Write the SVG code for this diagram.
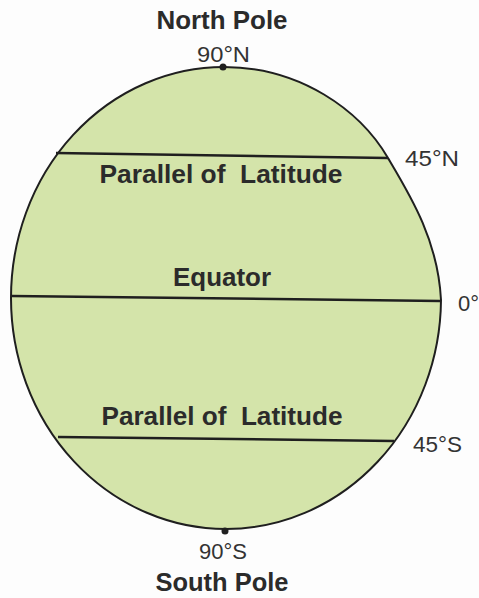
<svg xmlns="http://www.w3.org/2000/svg" width="479" height="598" viewBox="0 0 479 598">
<style>
.bold{font-family:"Liberation Sans",Arial,sans-serif;font-weight:bold;fill:#2b2b2b;text-anchor:middle}
.reg{font-family:"Liberation Sans",Arial,sans-serif;font-weight:normal;fill:#333;font-size:22px}
.lat{stroke:#1f1f1f;stroke-width:2.5;fill:none}
</style>
<rect width="479" height="598" fill="#fdfdfd"/>
<g id="globe">
<path d="M224,67 C300,67 360,110 388,158 C410,195 438,240 441,300 A215,231 0 0 1 226,529 A215,231 0 0 1 11,298 A213,231 0 0 1 224,67 Z" fill="#d4e4aa" stroke="#1f1f1f" stroke-width="2"/>
<circle cx="223" cy="67" r="3.5" fill="#1f1f1f"/>
<circle cx="225" cy="531" r="3.5" fill="#1f1f1f"/>
</g>
<g id="connectors">
<line class="lat" x1="56" y1="153" x2="388" y2="158"/>
<line class="lat" x1="12" y1="296" x2="440" y2="301"/>
<line class="lat" x1="58" y1="437" x2="394" y2="441"/>
</g>
<g id="north-pole"><text class="bold" x="222" y="29" font-size="25" textLength="131" lengthAdjust="spacingAndGlyphs">North Pole</text></g>
<g id="n90"><text class="reg" x="197" y="62" textLength="53" lengthAdjust="spacingAndGlyphs">90°N</text></g>
<g id="parallel-n"><text class="bold" x="221" y="183" font-size="26" textLength="243" lengthAdjust="spacingAndGlyphs" xml:space="preserve">Parallel of  Latitude</text></g>
<g id="n45"><text class="reg" x="405" y="166" textLength="54" lengthAdjust="spacingAndGlyphs">45°N</text></g>
<g id="equator"><text class="bold" x="222" y="286" font-size="26" textLength="98" lengthAdjust="spacingAndGlyphs">Equator</text></g>
<g id="deg0"><text class="reg" x="458" y="311">0°</text></g>
<g id="parallel-s"><text class="bold" x="222" y="425" font-size="26" textLength="241" lengthAdjust="spacingAndGlyphs" xml:space="preserve">Parallel of  Latitude</text></g>
<g id="s45"><text class="reg" x="413" y="452" textLength="49" lengthAdjust="spacingAndGlyphs">45°S</text></g>
<g id="s90"><text class="reg" x="199" y="559" textLength="48" lengthAdjust="spacingAndGlyphs">90°S</text></g>
<g id="south-pole"><text class="bold" x="222" y="591" font-size="25" textLength="133" lengthAdjust="spacingAndGlyphs">South Pole</text></g>
</svg>
